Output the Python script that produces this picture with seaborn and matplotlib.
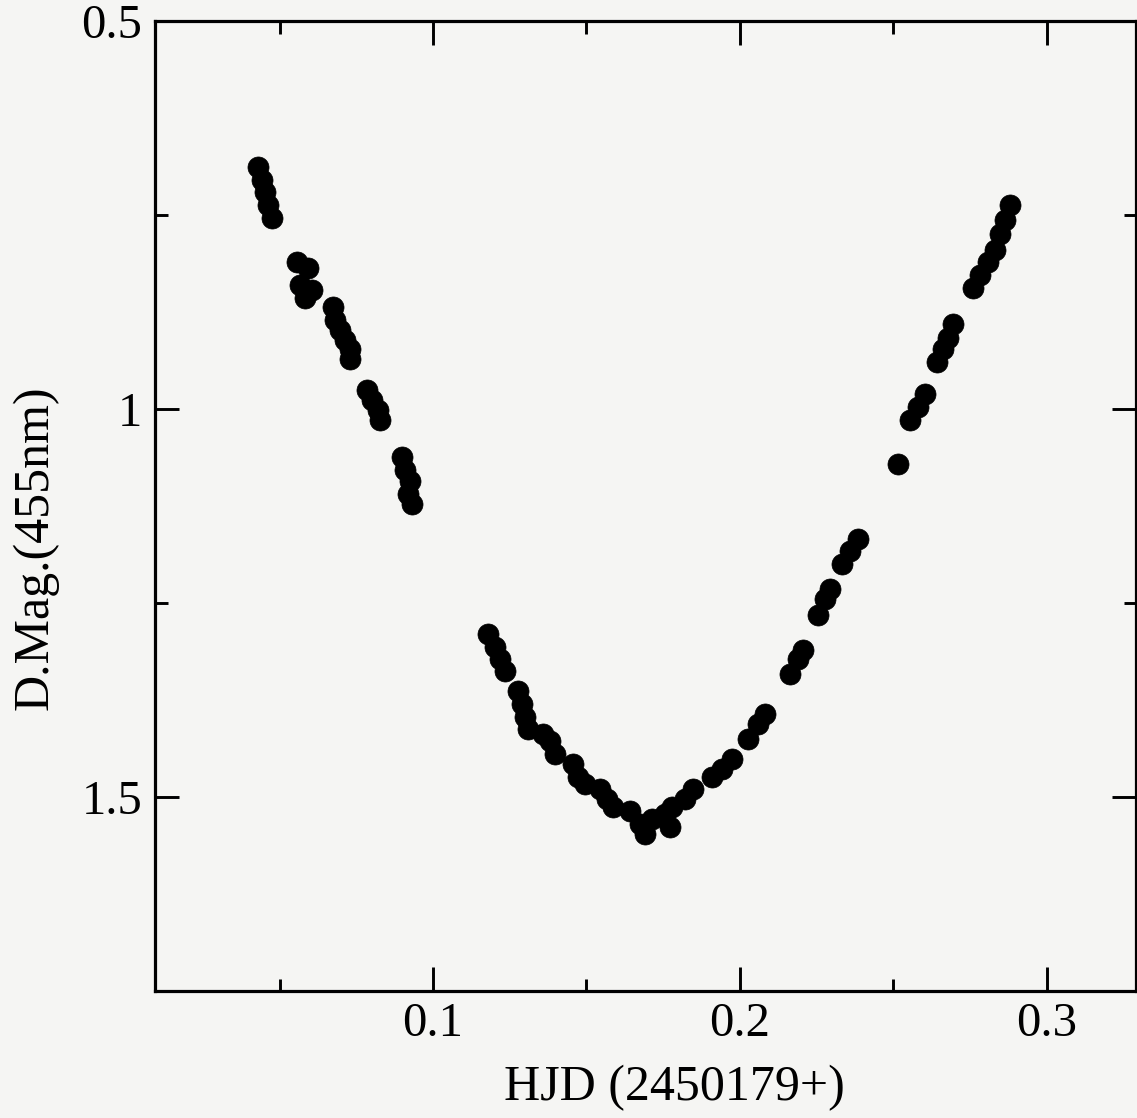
import matplotlib
matplotlib.use("Agg")
import matplotlib.pyplot as plt
import seaborn as sns
import pandas as pd
from matplotlib.ticker import FixedLocator, FixedFormatter

# Phase / HJD offsets (days) and differential magnitudes
hjd = [0.0430, 0.0443, 0.0453, 0.0463, 0.0476,
       0.0557, 0.0593, 0.0567, 0.0606, 0.0583,
       0.0674, 0.0681, 0.0697, 0.0713, 0.0730, 0.0730,
       0.0785, 0.0801, 0.0821, 0.0827,
       0.0899, 0.0909, 0.0925, 0.0919, 0.0932,
       0.1179, 0.1202, 0.1218, 0.1235,
       0.1277, 0.1290, 0.1300, 0.1309,
       0.1358, 0.1381, 0.1397,
       0.1456, 0.1472, 0.1495,
       0.1544, 0.1567, 0.1586,
       0.1642, 0.1674, 0.1691, 0.1713,
       0.1756, 0.1779, 0.1772,
       0.1821, 0.1847,
       0.1909, 0.1941, 0.1974,
       0.2026, 0.2059, 0.2081,
       0.2163, 0.2189, 0.2205,
       0.2254, 0.2277, 0.2293,
       0.2332, 0.2358, 0.2384,
       0.2515,
       0.2554, 0.2580, 0.2603,
       0.2642, 0.2661, 0.2678, 0.2694,
       0.2759, 0.2782, 0.2808, 0.2831, 0.2847, 0.2863, 0.2879]
dmag = [0.688, 0.705, 0.720, 0.737, 0.754,
        0.810, 0.818, 0.840, 0.846, 0.857,
        0.868, 0.885, 0.898, 0.911, 0.923, 0.936,
        0.975, 0.988, 1.001, 1.014,
        1.062, 1.078, 1.093, 1.110, 1.123,
        1.290, 1.307, 1.322, 1.338,
        1.364, 1.380, 1.397, 1.412,
        1.419, 1.428, 1.445,
        1.458, 1.474, 1.483,
        1.490, 1.503, 1.513,
        1.518, 1.535, 1.548, 1.528,
        1.522, 1.513, 1.539,
        1.503, 1.490,
        1.474, 1.464, 1.451,
        1.425, 1.406, 1.393,
        1.342, 1.322, 1.310,
        1.265, 1.245, 1.232,
        1.200, 1.183, 1.168,
        1.071,
        1.014, 0.998, 0.981,
        0.939, 0.923, 0.908, 0.891,
        0.844, 0.827, 0.810, 0.795, 0.775, 0.756, 0.737]

x_major = [0.1, 0.2, 0.3]
x_major_labels = ["0.1", "0.2", "0.3"]
x_minor = [0.05, 0.15, 0.25]
y_major = [0.5, 1.0, 1.5]
y_major_labels = ["0.5", "1", "1.5"]
y_minor = [0.75, 1.25]

df = pd.DataFrame({"HJD": hjd, "DMag": dmag})

sns.set_style("ticks")
plt.rcParams["font.family"] = ["Liberation Serif", "DejaVu Serif"]
plt.rcParams["text.color"] = "black"
plt.rcParams["axes.labelcolor"] = "black"
plt.rcParams["xtick.color"] = "black"
plt.rcParams["ytick.color"] = "black"

bg = "#f5f5f3"
fig = plt.figure(figsize=(11.37, 11.18), dpi=100, facecolor=bg)
ax = fig.add_axes([0.1363, 0.1136, 0.8627, 0.8676])
ax.set_facecolor(bg)

sns.scatterplot(data=df, x="HJD", y="DMag", ax=ax, color="black",
                edgecolor="black", s=230, linewidth=0.5, legend=False, zorder=3)

ax.set_xlim(0.0094, 0.329)
ax.set_ylim(1.75, 0.5)

ax.xaxis.set_major_locator(FixedLocator(x_major))
ax.xaxis.set_major_formatter(FixedFormatter(x_major_labels))
ax.xaxis.set_minor_locator(FixedLocator(x_minor))
ax.yaxis.set_major_locator(FixedLocator(y_major))
ax.yaxis.set_major_formatter(FixedFormatter(y_major_labels))
ax.yaxis.set_minor_locator(FixedLocator(y_minor))

for s in ax.spines.values():
    s.set_linewidth(2.3)
    s.set_color("black")

ax.tick_params(which="both", direction="in", top=True, right=True,
               width=2.1, color="black")
ax.tick_params(which="major", length=17)
ax.tick_params(which="minor", length=9)
ax.tick_params(axis="x", which="major", labelsize=35, pad=8, labelcolor="black")
ax.tick_params(axis="y", which="major", labelsize=35, pad=9, labelcolor="black")

ax.set_xlabel("HJD (2450179+)", fontsize=36, color="black")
ax.set_ylabel("D.Mag.(455nm)", fontsize=36, color="black")
ax.xaxis.set_label_coords(0.53, -0.10)
ax.yaxis.set_label_coords(-0.122, 0.457)
ax.xaxis.label.set_va("center")
ax.yaxis.label.set_va("center")

fig.savefig("out.png", dpi=100, facecolor=bg)
